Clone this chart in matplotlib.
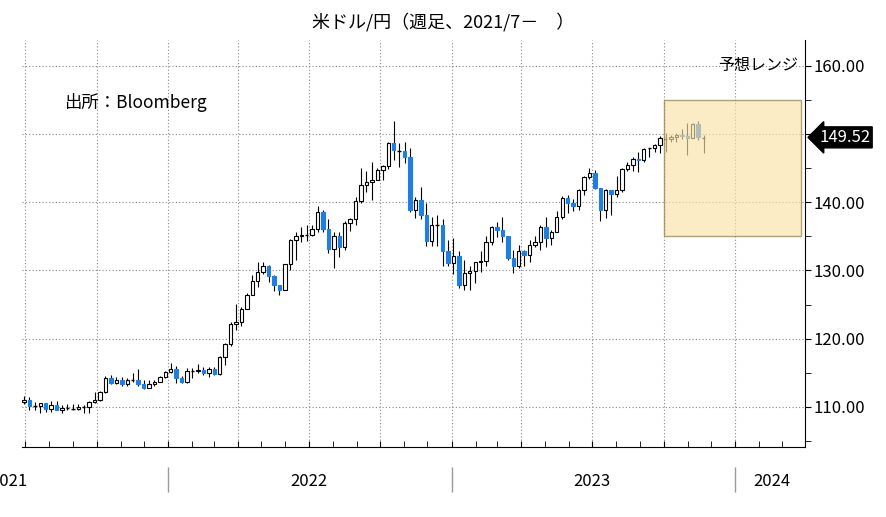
import datetime as dt
import matplotlib
matplotlib.use('Agg')
import matplotlib.pyplot as plt
import matplotlib.dates as mdates
from matplotlib.patches import Rectangle

plt.rcParams['font.family'] = ['Noto Sans CJK JP']

# weekly USD/JPY (week ending Fridays), first week ends 2021-07-02
first_week = dt.date(2021, 7, 2)
first_open = 110.7
closes = [111.0,110.1,110.1,110.5,109.7,110.2,109.6,109.8,109.8,109.7,109.9,109.9,110.7,111.0,112.2,114.2,113.5,114.0,113.4,113.9,114.0,113.4,112.8,113.4,113.7,114.4,115.1,
          115.6,114.2,113.7,115.3,115.2,115.4,115.0,115.6,114.8,117.3,119.2,122.1,122.5,124.3,126.4,128.5,129.8,130.6,129.2,127.9,127.1,130.9,134.4,135.0,135.2,135.2,136.1,138.6,136.1,133.2,135.0,133.5,137.0,137.6,140.2,142.6,142.9,143.3,144.7,145.3,148.7,147.6,147.5,146.6,138.8,140.4,138.2,134.3,136.6,136.7,132.9,131.1,
          132.1,127.9,129.6,129.9,131.2,131.4,134.2,136.4,135.9,135.0,131.8,130.7,132.8,132.2,133.8,134.2,136.3,134.8,135.7,137.9,140.6,139.9,139.4,141.8,143.7,144.3,142.1,138.8,141.8,141.2,141.8,144.9,145.4,146.4,146.2,147.8,147.9,148.4,149.4,149.3,149.6,149.9,149.7,149.4,151.5,149.6,149.5]
highs = [111.6,111.4,110.7,110.6,110.6,110.8,110.8,110.3,110.4,110.4,110.4,110.2,110.8,112.1,112.3,114.5,114.7,114.3,114.4,114.2,114.9,115.5,113.9,113.9,113.9,114.5,115.2,
         116.4,116.0,114.5,115.7,115.7,116.3,115.8,115.8,115.8,117.4,119.4,122.4,125.1,124.7,126.7,129.4,131.3,131.3,130.8,129.3,127.6,131.0,134.6,135.6,136.4,136.6,136.6,139.4,138.9,137.5,135.6,135.6,137.2,137.7,140.8,145.0,144.6,145.9,145.0,145.4,148.9,151.9,148.7,148.8,148.0,140.8,142.3,139.9,137.9,138.2,137.5,134.4,
         134.8,132.9,131.6,130.6,131.2,132.9,135.1,136.5,137.1,137.9,135.1,133.0,133.8,133.0,134.4,135.1,136.6,137.8,136.0,138.7,140.9,141.0,140.5,141.9,143.9,145.0,144.7,142.1,142.0,141.7,143.9,145.0,145.9,146.6,147.4,147.9,148.0,148.5,149.7,150.2,149.8,150.1,150.8,151.7,151.6,151.9,149.8]
lows = [110.4,109.5,109.6,109.1,109.3,109.2,109.5,109.1,109.6,109.6,109.6,109.1,109.1,110.6,110.8,112.0,113.4,113.3,113.1,113.0,113.6,113.1,112.6,112.8,113.1,113.6,114.2,
        115.0,113.5,113.5,113.5,114.2,114.9,114.6,114.4,114.7,114.7,116.2,118.9,121.3,121.9,124.3,126.4,127.5,129.5,128.3,127.0,126.4,127.3,130.1,131.5,134.2,134.3,135.0,135.7,135.6,132.5,130.4,132.0,133.0,135.8,136.6,139.9,141.5,140.4,143.5,143.3,144.9,146.2,145.1,145.7,138.5,137.7,137.5,133.6,133.6,133.6,130.6,130.6,
        129.5,127.4,127.2,127.2,128.1,129.8,130.7,133.8,134.9,134.1,131.6,129.6,130.4,130.6,131.3,133.5,133.0,133.5,133.7,135.6,137.5,138.4,138.7,138.8,141.0,143.4,141.9,137.3,137.7,138.1,140.7,141.5,144.6,144.6,144.4,145.9,146.6,147.3,147.2,147.3,148.8,148.9,149.3,146.9,149.4,149.2,147.2]

last_price = 149.52
range_low, range_high = 135, 155
range_start, range_end = dt.date(2023, 10, 1), dt.date(2024, 3, 26)
yticks = [110, 120, 130, 140, 150, 160]

up_col = 'white'
down_col = '#1f7fe0'

fig = plt.figure(figsize=(8.87, 5.17), dpi=100)
ax = fig.add_axes([0.0248, 0.1354, 0.8827, 0.7872])

opens = [first_open] + closes[:-1]
for i, (o, h, l, c) in enumerate(zip(opens, highs, lows, closes)):
    d = mdates.date2num(first_week + dt.timedelta(weeks=i)) - 2.5
    ax.vlines(d, l, h, color='black', lw=0.8, zorder=3)
    lo, hi = min(o, c), max(o, c)
    if hi - lo < 0.15:
        ax.hlines(c, d - 2.2, d + 2.2, color='black', lw=1.0, zorder=4)
    else:
        ax.add_patch(Rectangle((d - 2.2, lo), 4.4, hi - lo,
                               facecolor=up_col if c >= o else down_col,
                               edgecolor='black' if c >= o else down_col, lw=0.8, zorder=4))

# forecast range box
x0, x1 = mdates.date2num(range_start), mdates.date2num(range_end)
ax.add_patch(Rectangle((x0, range_low), x1 - x0, range_high - range_low,
                       facecolor='#fbe3a6', edgecolor='#8a7434', lw=1.0, alpha=0.65, zorder=5))
ax.text(mdates.date2num(dt.date(2024, 3, 22)), 160, '予想レンジ', ha='right', va='center', fontsize=11.5, zorder=6)
ax.text(mdates.date2num(dt.date(2021, 8, 20)), 154.6, '出所：Bloomberg', ha='left', va='center',
        fontsize=12.5, zorder=6)

ax.yaxis.tick_right()
ax.set_yticks(yticks)
ax.set_yticklabels(['' if v == 150 else '%.2f' % v for v in yticks], fontsize=12)
ax.set_yticks([105, 115, 125, 135, 145, 155], minor=True)
ax.tick_params(axis='y', which='both', direction='out', length=4, pad=2)

quarters = [dt.date(y, m, 1) for y in (2021, 2022, 2023, 2024) for m in (1, 4, 7, 10)]
ax.set_xticks([mdates.date2num(q) for q in quarters])
ax.set_xticklabels([])
ax.xaxis.set_minor_locator(mdates.MonthLocator())
ax.tick_params(axis='x', which='both', direction='in', length=4)
ax.grid(True, which='major', color='#888888', linestyle=(0, (1, 2)), lw=0.8)

for s in ('top', 'left'):
    ax.spines[s].set_visible(False)

# year labels and separators below axis
xt = ax.get_xaxis_transform()
for y in (2021, 2022, 2023, 2024):
    if y == 2021:
        mid = mdates.date2num(dt.date(2021, 6, 10))
    elif y == 2024:
        mid = mdates.date2num(dt.date(2024, 2, 18))
    else:
        mid = mdates.date2num(dt.date(y, 7, 1))
    ax.text(mid, -0.085, str(y), transform=xt, ha='center', va='center', fontsize=12, clip_on=False)
    if y > 2021:
        ax.vlines(mdates.date2num(dt.date(y, 1, 1)), -0.05, -0.11, transform=xt,
                  color='#999999', lw=1, clip_on=False)

ax.set_xlim(mdates.date2num(dt.date(2021, 6, 27)), mdates.date2num(dt.date(2024, 3, 31)))
ax.set_ylim(104.1, 163.8)

ax.annotate('%.2f' % last_price, xy=(1.0, last_price), xycoords=('axes fraction', 'data'),
            xytext=(1.018, last_price), textcoords=('axes fraction', 'data'), va='center', ha='left',
            color='white', fontsize=12,
            bbox=dict(boxstyle='larrow,pad=0.12', fc='black', ec='black'), annotation_clip=False, zorder=10)

fig.suptitle('米ドル/円（週足、2021/7－　）', y=0.975, fontsize=13)
fig.savefig('out.png', dpi=100)
